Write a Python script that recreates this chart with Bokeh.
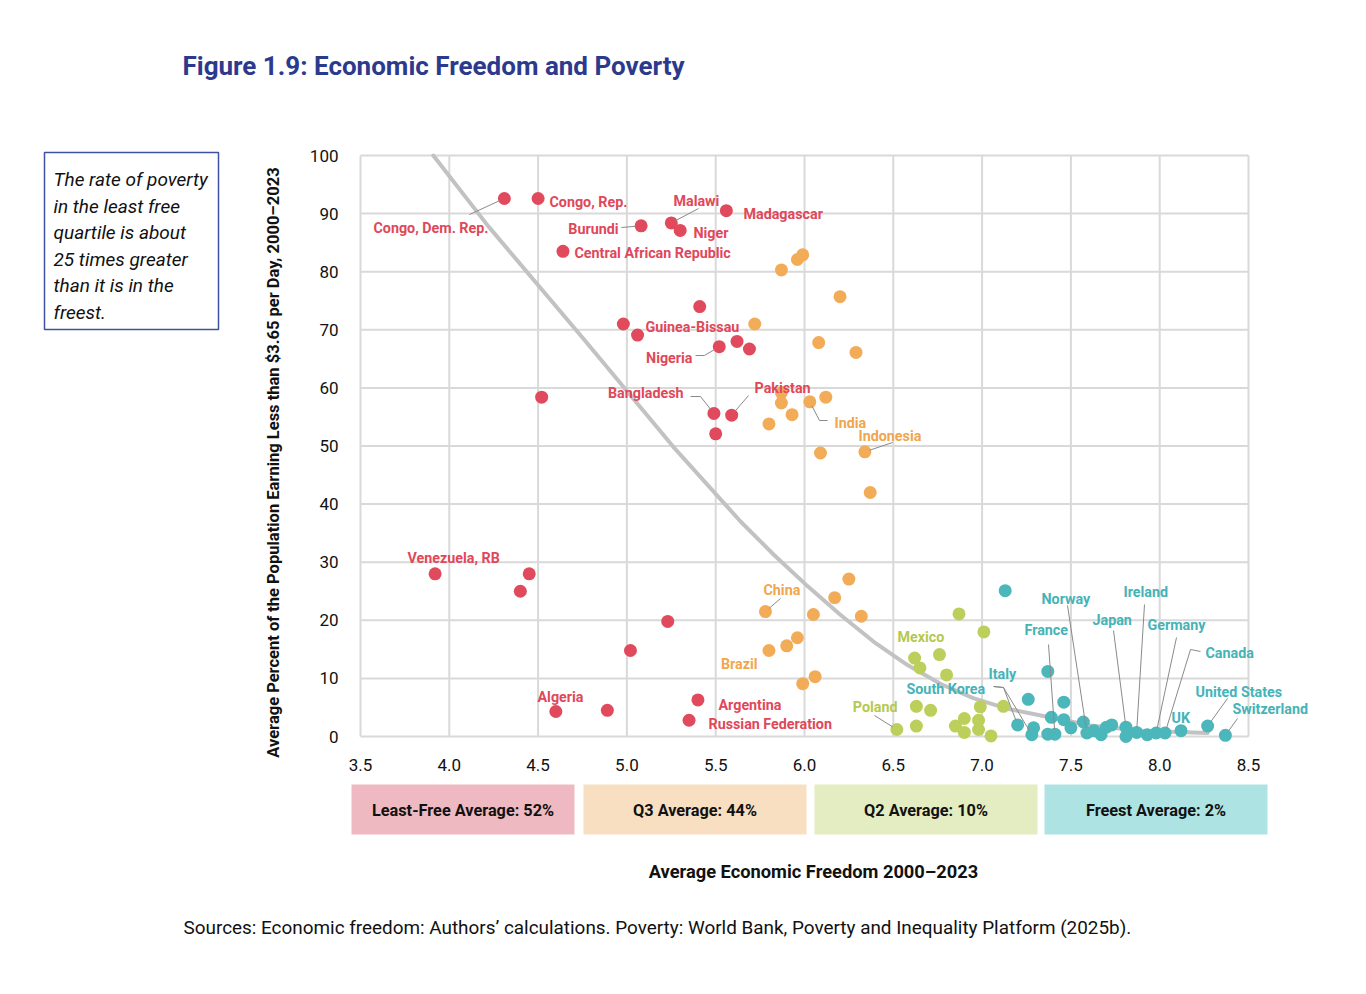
import math
from bokeh.plotting import figure
from bokeh.models import (Range1d, FixedTicker, PrintfTickFormatter, Label, LinearAxis)
from bokeh.embed import file_html
from bokeh.resources import INLINE

# ---------------- data ----------------
least_x = [4.31, 4.50, 5.25, 5.56, 5.08, 5.30, 4.64, 5.41, 4.98, 5.06, 5.52, 5.62, 5.69,
           4.52, 5.49, 5.59, 5.50, 3.92, 4.45, 4.40, 5.23, 5.02, 4.60, 4.89, 5.40, 5.35]
least_y = [92.6, 92.6, 88.4, 90.5, 87.9, 87.1, 83.5, 74.0, 71.0, 69.1, 67.1, 68.0, 66.7,
           58.4, 55.6, 55.3, 52.1, 28.0, 28.0, 25.0, 19.8, 14.8, 4.3, 4.5, 6.3, 2.8]
least_names = ["Congo, Dem. Rep.", "Congo, Rep.", "Malawi", "Madagascar", "Burundi", "Niger",
               "Central African Republic", "", "", "Guinea-Bissau", "Nigeria", "", "",
               "", "Bangladesh", "Pakistan", "", "Venezuela, RB", "", "", "", "",
               "Algeria", "", "Argentina", "Russian Federation"]

q3_x = [5.99, 5.96, 5.87, 6.20, 5.72, 6.08, 6.29, 5.87, 5.87, 6.03, 6.12, 5.93, 5.80,
        6.09, 6.34, 6.37, 6.25, 6.17, 5.78, 6.05, 6.32, 5.96, 5.90, 5.80, 6.06, 5.99]
q3_y = [82.9, 82.1, 80.3, 75.7, 71.0, 67.8, 66.1, 59.2, 57.4, 57.6, 58.4, 55.4, 53.8,
        48.8, 49.0, 42.0, 27.1, 23.9, 21.5, 21.0, 20.7, 17.0, 15.6, 14.8, 10.3, 9.1]
q3_names = ["", "", "", "", "", "", "", "", "", "India", "", "", "",
            "", "Indonesia", "", "", "", "China", "", "", "", "", "Brazil", "", ""]

q2_x = [6.87, 7.01, 6.76, 6.62, 6.65, 6.80, 6.63, 6.71, 6.99, 7.12, 6.52, 6.63, 6.85,
        6.90, 6.90, 6.98, 6.98, 7.05]
q2_y = [21.1, 18.0, 14.1, 13.5, 11.8, 10.6, 5.2, 4.5, 5.1, 5.2, 1.2, 1.8, 1.8,
        3.1, 0.7, 2.8, 1.2, 0.1]
q2_names = ["", "", "", "Mexico", "", "", "", "", "", "", "Poland", "", "",
            "", "", "", "", ""]

free_x = [7.13, 7.37, 7.26, 7.46, 7.20, 7.29, 7.28, 7.39, 7.46, 7.37, 7.41, 7.50, 7.57,
          7.59, 7.63, 7.67, 7.70, 7.73, 7.81, 7.81, 7.87, 7.93, 7.98, 8.03, 8.12, 8.27, 8.37]
free_y = [25.1, 11.2, 6.4, 5.9, 2.0, 1.5, 0.3, 3.3, 2.9, 0.4, 0.4, 1.5, 2.5,
          0.6, 1.0, 0.3, 1.6, 2.0, 1.6, 0.0, 0.7, 0.3, 0.6, 0.6, 1.0, 1.8, 0.2]
free_names = ["", "", "", "", "Italy", "", "South Korea", "", "", "", "France", "", "",
              "Norway", "", "", "", "", "Japan", "", "Ireland", "", "Germany", "Canada",
              "UK", "United States", "Switzerland"]

trend_x = [3.91, 4.22, 4.76, 5.26, 5.64, 5.83, 6.02, 6.20, 6.39, 6.58, 6.77, 6.95, 7.14,
           7.38, 7.61, 7.90, 8.27]
trend_y = [100.0, 87.8, 68.3, 49.9, 37.0, 31.2, 25.8, 21.0, 16.3, 12.3, 9.0, 6.6, 4.8,
           3.3, 1.9, 1.0, 0.6]

quartile_labels = ["Least-Free Average: 52%", "Q3 Average: 44%", "Q2 Average: 10%",
                   "Freest Average: 2%"]
x_ticks = [3.5, 4.0, 4.5, 5.0, 5.5, 6.0, 6.5, 7.0, 7.5, 8.0, 8.5]
y_ticks = [0, 10, 20, 30, 40, 50, 60, 70, 80, 90, 100]

title_text = "Figure 1.9: Economic Freedom and Poverty"
note_lines = ["The rate of poverty", "in the least free", "quartile is about",
              "25 times greater", "than it is in the", "freest."]
y_label = "Average Percent of the Population Earning Less than $3.65 per Day,  2000\u20132023"
x_label = "Average Economic Freedom 2000\u20132023"
source_text = ("Sources: Economic freedom: Authors\u2019 calculations. Poverty: World Bank, "
               "Poverty and Inequality Platform (2025b).")

# ---------------- layout helpers (page pixels -> data) ----------------
FX0, FX1 = 360, 1248     # data area 3.5 .. 8.5
FY0, FY1 = 155, 736      # data area 100 .. 0
def X(px):
    return 3.5 + (px - FX0) * 5.0 / (FX1 - FX0)
def Y(py):
    return (FY1 - py) * 100.0 / (FY1 - FY0)
PXU = (FX1 - FX0) / 5.0
PYU = (FY1 - FY0) / 100.0

W, H = 1350, 975
p = figure(width=W, height=H, x_range=Range1d(X(0), X(W)), y_range=Range1d(Y(H), Y(0)),
           output_backend="svg", toolbar_location=None,
           x_axis_location=None, y_axis_location=None,
           min_border=0, min_border_left=0, min_border_right=0,
           min_border_top=0, min_border_bottom=0)
p.title.visible = False
p.background_fill_color = "white"
p.border_fill_color = "white"
p.outline_line_color = None
p.center = []   # no default grids; the chart grid is drawn from the tick lists

FONT = "Roboto"
GRID = "#d9d9d9"
xmin, xmax = x_ticks[0], x_ticks[-1]
ymin, ymax = y_ticks[0], y_ticks[-1]
p.segment(x0=x_ticks, x1=x_ticks, y0=[ymin] * len(x_ticks), y1=[ymax] * len(x_ticks),
          line_color=GRID, line_width=2)
p.segment(x0=[xmin] * len(y_ticks), x1=[xmax] * len(y_ticks), y0=y_ticks, y1=y_ticks,
          line_color=GRID, line_width=2)

xax = LinearAxis(fixed_location=ymin, ticker=FixedTicker(ticks=x_ticks),
                 formatter=PrintfTickFormatter(format="%.1f"))
yax = LinearAxis(fixed_location=xmin, ticker=FixedTicker(ticks=y_ticks))
for ax in (xax, yax):
    ax.axis_line_color = None
    ax.major_tick_line_color = None
    ax.minor_tick_line_color = None
    ax.major_label_text_font = FONT
    ax.major_label_text_font_size = "17px"
    ax.major_label_text_color = "#111111"
    ax.major_label_standoff = 16
p.add_layout(xax, "below")
p.add_layout(yax, "left")

RED, ORANGE, GREEN, TEAL = "#e04a5c", "#f2ac58", "#bccf5a", "#4bb7bb"
RED_T, ORANGE_T, GREEN_T, TEAL_T = "#e0485a", "#f0a64e", "#b5c94f", "#45b3b7"

# trend line
p.line(trend_x, trend_y, line_color="#c2c2c2", line_width=4, line_join="round", line_cap="round")

groups = [
    (least_x, least_y, least_names, RED),
    (q3_x, q3_y, q3_names, ORANGE),
    (q2_x, q2_y, q2_names, GREEN),
    (free_x, free_y, free_names, TEAL),
]
point_of = {}
for xs, ys, names, col in groups:
    p.scatter(xs, ys, size=13, fill_color=col, line_color=None)
    for xx, yy, nm in zip(xs, ys, names):
        if nm:
            point_of[nm] = (xx, yy)

# ---------------- country labels ----------------
LEAD = "#8a8a8a"
labels = [  # (text, colour, page-x, page-y, align)
    ("Congo, Dem. Rep.", RED_T, 373, 227, "left"),
    ("Congo, Rep.", RED_T, 549, 201, "left"),
    ("Malawi", RED_T, 673, 200, "left"),
    ("Madagascar", RED_T, 743, 213, "left"),
    ("Burundi", RED_T, 618, 228, "right"),
    ("Niger", RED_T, 693, 232, "left"),
    ("Central African Republic", RED_T, 574, 252, "left"),
    ("Guinea-Bissau", RED_T, 645, 326, "left"),
    ("Nigeria", RED_T, 692, 357, "right"),
    ("Bangladesh", RED_T, 683, 392, "right"),
    ("Pakistan", RED_T, 754, 387, "left"),
    ("Venezuela, RB", RED_T, 407, 557, "left"),
    ("Algeria", RED_T, 537, 696, "left"),
    ("Argentina", RED_T, 718, 704, "left"),
    ("Russian Federation", RED_T, 708, 723, "left"),
    ("India", ORANGE_T, 834, 422, "left"),
    ("Indonesia", ORANGE_T, 858, 435, "left"),
    ("China", ORANGE_T, 763, 589, "left"),
    ("Brazil", ORANGE_T, 757, 663, "right"),
    ("Mexico", GREEN_T, 897, 636, "left"),
    ("Poland", GREEN_T, 897, 706, "right"),
    ("South Korea", TEAL_T, 906, 688, "left"),
    ("Italy", TEAL_T, 988, 673, "left"),
    ("Norway", TEAL_T, 1041, 598, "left"),
    ("France", TEAL_T, 1024, 629, "left"),
    ("Japan", TEAL_T, 1092, 619, "left"),
    ("Ireland", TEAL_T, 1123, 591, "left"),
    ("Germany", TEAL_T, 1147, 624, "left"),
    ("Canada", TEAL_T, 1205, 652, "left"),
    ("UK", TEAL_T, 1171, 717, "left"),
    ("United States", TEAL_T, 1195, 691, "left"),
    ("Switzerland", TEAL_T, 1232, 708, "left"),
]
for txt, col, px, py, al in labels:
    p.add_layout(Label(x=X(px), y=Y(py), text=txt, text_font=FONT, text_font_size="14.3px",
                       text_font_style="bold", text_color=col, text_align=al,
                       text_baseline="middle"))

leaders = [  # (page-px waypoints, country whose point ends the leader)
    ([(469, 214)], "Congo, Dem. Rep."),
    ([(698, 208)], "Malawi"),
    ([(621, 227)], "Burundi"),
    ([(695, 355), (704, 355)], "Nigeria"),
    ([(690, 396), (700, 396)], "Bangladesh"),
    ([(748, 395)], "Pakistan"),
    ([(827, 420), (819, 420)], "India"),
    ([(892, 442)], "Indonesia"),
    ([(780, 598)], "China"),
    ([(874, 715)], "Poland"),
    ([(993, 686), (1003, 687)], "Italy"),
    ([(993, 686), (1003, 687)], "South Korea"),
    ([(1067, 605)], "Norway"),
    ([(1048, 644)], "France"),
    ([(1113, 630)], "Japan"),
    ([(1144, 604)], "Ireland"),
    ([(1176, 637)], "Germany"),
    ([(1200, 651), (1190, 649)], "Canada"),
    ([(1227, 698)], "United States"),
    ([(1237, 718)], "Switzerland"),
]
lx, ly = [], []
for pts, nm in leaders:
    xs = [X(a) for a, b in pts]
    ys = [Y(b) for a, b in pts]
    tx, ty = point_of[nm]
    dx, dy = tx - xs[-1], ty - ys[-1]
    d = math.hypot(dx * PXU, dy * PYU)
    f = max(0.0, (d - 5.0) / d) if d > 0 else 0
    xs.append(xs[-1] + dx * f)
    ys.append(ys[-1] + dy * f)
    lx.append(xs)
    ly.append(ys)
p.multi_line(lx, ly, line_color=LEAD, line_width=1)

# ---------------- page texts / boxes ----------------
p.add_layout(Label(x=X(182), y=Y(65), text=title_text, text_font=FONT, text_font_size="26px",
                   text_font_style="bold", text_color="#2c3a8e", text_align="left",
                   text_baseline="middle"))

p.quad(left=[X(44)], right=[X(218)], top=[Y(152)], bottom=[Y(329)],
       fill_color=None, line_color="#3f51a3", line_width=1.5)
for i, t in enumerate(note_lines):
    p.add_layout(Label(x=X(53), y=Y(179 + 26.5 * i), text=t, text_font=FONT,
                       text_font_size="19px", text_font_style="italic", text_color="#111111",
                       text_align="left", text_baseline="middle"))

p.add_layout(Label(x=X(273), y=Y(460), text=y_label, text_font=FONT, text_font_size="16.5px",
                   text_font_style="bold", text_color="#111111", text_align="center",
                   text_baseline="middle", angle=math.pi / 2))

box_cols = ["#efb9c2", "#f8dfc1", "#e4ecc2", "#ade3e3"]
box_left = [351, 583, 814, 1044]
p.quad(left=[X(b) for b in box_left], right=[X(b + 223) for b in box_left],
       top=[Y(784)] * 4, bottom=[Y(834)] * 4, fill_color=box_cols, line_color=None)
for bl, bt in zip(box_left, quartile_labels):
    p.add_layout(Label(x=X(bl + 111.5), y=Y(810), text=bt, text_font=FONT,
                       text_font_size="16.3px", text_font_style="bold", text_color="#111111",
                       text_align="center", text_baseline="middle"))

p.add_layout(Label(x=X(813), y=Y(871), text=x_label, text_font=FONT, text_font_size="18.3px",
                   text_font_style="bold", text_color="#111111", text_align="center",
                   text_baseline="middle"))
p.add_layout(Label(x=X(183), y=Y(927), text=source_text, text_font=FONT, text_font_size="18.9px",
                   text_color="#111111", text_align="left", text_baseline="middle"))

open("out.html", "w").write(file_html(p, INLINE))
